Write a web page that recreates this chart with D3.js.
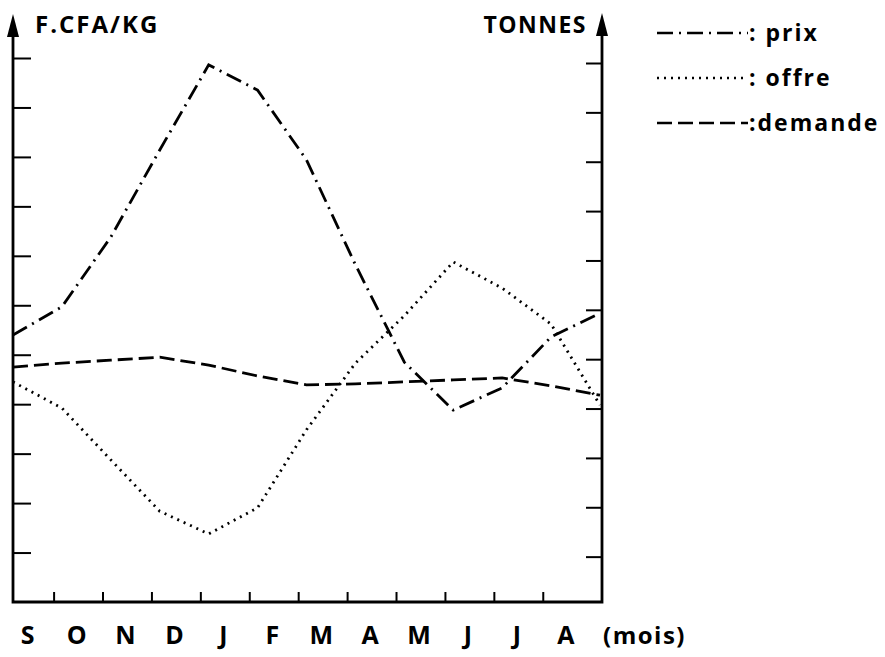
<!DOCTYPE html>
<html>
<head>
<meta charset="utf-8">
<script src="https://cdn.jsdelivr.net/npm/d3@7"></script>
<style>
	body { margin: 0; background: #fff; }
	text { font-family: "Open Sans", "DejaVu Sans", sans-serif; font-weight: bold; fill: #000; }
</style>
</head>
<body>
<svg id="chart" width="885" height="657"></svg>
<script>

// data (axis tick units, no scale values given)
var months = ["S", "O", "N", "D", "J", "F", "M", "A", "M", "J", "J", "A"];
// 13 points: Sept to next Sept (last one sits on the right axis)
var prix    = [5.40, 5.97, 7.38, 9.14, 10.86, 10.35, 8.94, 6.82, 4.85, 3.88, 4.33, 5.36, 5.84];
var offre   = [4.54, 4.01, 2.96, 1.92, 1.46, 1.99, 3.57, 4.92, 5.88, 6.97, 6.44, 5.71, 4.07];
var demande = [4.84, 4.92, 4.98, 5.04, 4.88, 4.66, 4.48, 4.50, 4.54, 4.58, 4.62, 4.46, 4.27];
var leftTicks  = d3.range(1, 12);
var rightTicks = d3.range(1, 12);
var series = [
	{ name: "prix",    values: prix,    side: "left",  dash: "16,6,2,6", label: ": prix" },
	{ name: "offre",   values: offre,   side: "right", dash: "2,5",      label: ": offre" },
	{ name: "demande", values: demande, side: "right", dash: "15,6",     label: ":demande" }
];


var svg = d3.select("#chart");

// scales
var x  = d3.scaleLinear().domain([0, 12]).range([13, 600]);
var yL = d3.scaleLinear().domain([0, 11]).range([602, 58]);
var yR = d3.scaleLinear().domain([0, 11]).range([606, 63]);

var left = 13, right = 602, bottom = 602;


// left axis (F.CFA/KG)
svg.append("g")
	.attr("transform", "translate(" + left + ",0)")
	.call(d3.axisRight(yL).tickValues(leftTicks).tickSize(18).tickFormat(""))
	.call(function(g){ g.select(".domain").remove(); })
	.selectAll("line").attr("stroke", "#000").attr("stroke-width", 2);

// right axis (TONNES)
svg.append("g")
	.attr("transform", "translate(" + right + ",0)")
	.call(d3.axisLeft(yR).tickValues(rightTicks).tickSize(16).tickFormat(""))
	.call(function(g){ g.select(".domain").remove(); })
	.selectAll("line").attr("stroke", "#000").attr("stroke-width", 2);

// bottom axis (months)
svg.append("g")
	.attr("transform", "translate(0," + bottom + ")")
	.call(d3.axisTop(x).tickValues(d3.range(1, 12).map(function(i){ return i - 0.17; })).tickSize(10).tickFormat(""))
	.call(function(g){ g.select(".domain").remove(); })
	.selectAll("line").attr("stroke", "#000").attr("stroke-width", 2);

// frame lines
svg.append("path")
	.attr("d", "M" + left + ",34V" + bottom + "H" + right + "V33")
	.attr("fill", "none")
	.attr("stroke", "#000")
	.attr("stroke-width", 2.8);

// arrow heads
svg.append("path").attr("d", "M" + left + ",14L" + (left - 6) + ",37L" + (left + 6) + ",37Z");
svg.append("path").attr("d", "M" + right + ",13L" + (right - 6) + ",36L" + (right + 6) + ",36Z");

// axis titles
svg.append("text")
	.attr("x", 35).attr("y", 33)
	.style("font-size", "24px")
	.style("letter-spacing", "2px")
	.text("F.CFA/KG");
svg.append("text")
	.attr("x", 587).attr("y", 33)
	.attr("text-anchor", "end")
	.style("font-size", "23px")
	.style("letter-spacing", "1.5px")
	.text("TONNES");

// month labels
svg.selectAll(".month")
	.data(months)
	.enter().append("text")
	.attr("class", "month")
	.attr("x", function(d, i){ return x(i + 0.3); })
	.attr("y", 644)
	.attr("text-anchor", "middle")
	.style("font-size", "25px")
	.text(function(d){ return d; });
svg.append("text")
	.attr("x", 603).attr("y", 644)
	.style("font-size", "24px")
	.style("letter-spacing", "1.5px")
	.text("(mois)");


// curves
var line = function(s){
	var ys = s.side == "left" ? yL : yR;
	return d3.line()
		.x(function(d, i){ return x(i); })
		.y(function(d){ return ys(d); })(s.values);
};
svg.selectAll(".curve")
	.data(series)
	.enter().append("path")
	.attr("class", "curve")
	.attr("d", line)
	.attr("fill", "none")
	.attr("stroke", "#000")
	.attr("stroke-width", 2.8)
	.attr("stroke-dasharray", function(d){ return d.dash; });


// legend
var legend = svg.selectAll(".legend")
	.data(series)
	.enter().append("g")
	.attr("class", "legend")
	.attr("transform", function(d, i){ return "translate(657," + (33 + i * 45) + ")"; });
legend.append("line")
	.attr("x1", 0).attr("x2", 91)
	.attr("stroke", "#000")
	.attr("stroke-width", 2.4)
	.attr("stroke-dasharray", function(d){ return d.dash; });
legend.append("text")
	.attr("x", 92).attr("y", 8)
	.style("font-size", "23px")
	.style("letter-spacing", "2px")
	.text(function(d){ return d.label; });

</script>
</body>
</html>
